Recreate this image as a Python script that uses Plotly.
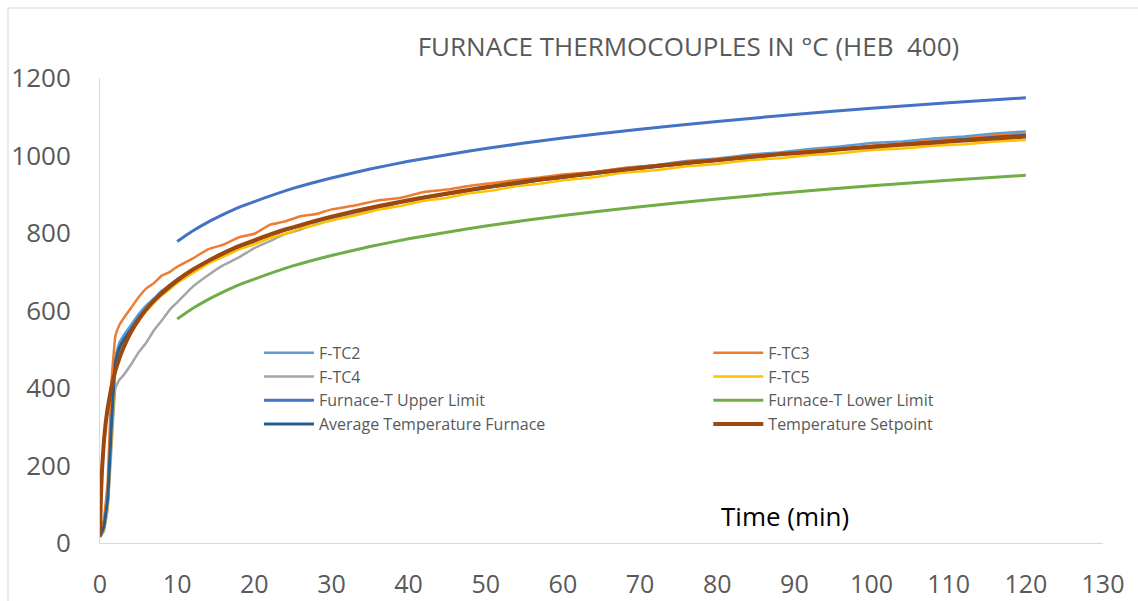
import plotly.graph_objects as go

# ---------------- data ----------------
time_meas = [0, 0.5, 1, 1.5, 2, 2.5, 3, 4, 5, 6, 7, 8, 9, 10, 12, 14, 16, 18, 20, 22, 24, 26, 28, 30,
             33, 36, 39, 42, 45, 48, 51, 54, 57, 60, 64, 68, 72, 76, 80, 84, 88, 92, 96, 100,
             104, 108, 112, 116, 120]

f_tc2 = [18, 40, 110, 300, 482, 516, 534, 562, 590, 613, 631, 651, 665, 681, 705, 729, 747, 766, 779, 795,
         806, 820, 829, 841, 854, 868, 879, 892, 900, 912, 920, 931, 938, 947, 956, 968, 975, 986, 992,
         1002, 1008, 1017, 1023, 1032, 1036, 1044, 1049, 1057, 1062]

f_tc3 = [20, 60, 160, 420, 535, 562, 578, 606, 634, 657, 671, 690, 699, 713, 734, 758, 770, 789, 798, 821,
         830, 843, 849, 861, 871, 884, 891, 906, 912, 922, 929, 937, 943, 951, 957, 968, 974, 984, 990,
         999, 1004, 1013, 1018, 1026, 1031, 1039, 1044, 1052, 1057]

f_tc4 = [15, 30, 90, 250, 400, 421, 432, 460, 492, 517, 549, 574, 601, 621, 661, 691, 717, 737, 761, 779,
         797, 809, 823, 833, 851, 863, 878, 888, 900, 908, 919, 926, 936, 942, 954, 961, 972, 978, 988,
         994, 1003, 1008, 1017, 1021, 1029, 1033, 1041, 1044, 1051]

f_tc5 = [15, 35, 100, 280, 450, 490, 514, 549, 573, 599, 619, 639, 654, 671, 696, 721, 739, 758, 771, 787,
         798, 812, 821, 833, 845, 860, 870, 883, 891, 903, 910, 921, 927, 936, 944, 956, 962, 972, 978,
         988, 993, 1001, 1006, 1014, 1018, 1025, 1029, 1036, 1040]

avg_furnace = [17, 41, 115, 312, 466, 503, 522, 551, 580, 603, 625, 643, 660, 676, 705, 727, 747, 765, 779,
               795, 808, 820, 831, 841, 856, 868, 880, 892, 901, 911, 920, 928, 937, 944, 953, 963, 971,
               980, 988, 995, 1003, 1009, 1017, 1023, 1029, 1035, 1041, 1047, 1052]

time_setpoint = [0, 0.1, 0.25, 0.5, 0.75, 1, 1.5, 2, 2.5, 3, 4, 5, 6, 7, 8, 9, 10, 12, 14, 16, 18, 20, 22,
                 24, 26, 28, 30, 33, 36, 39, 42, 45, 48, 51, 54, 57, 60, 64, 68, 72, 76, 80, 84, 88, 92,
                 96, 100, 104, 108, 112, 116, 120]
setpoint = [20, 108, 185, 261, 312, 349, 404, 445, 476, 502, 544, 576, 603, 626, 645, 663, 678, 705, 728,
            748, 766, 781, 796, 809, 820, 832, 842, 856, 869, 881, 892, 902, 912, 921, 930, 938, 945, 955,
            964, 973, 981, 988, 996, 1003, 1009, 1016, 1022, 1028, 1033, 1039, 1044, 1049]

time_limits = [10, 12, 14, 16, 18, 20, 25, 30, 35, 40, 45, 50, 55, 60, 70, 80, 90, 100, 110, 120]
upper_limit = [778, 805, 828, 848, 866, 881, 915, 942, 965, 985, 1002, 1018, 1032, 1045, 1068, 1088, 1106,
               1122, 1136, 1149]
lower_limit = [578, 605, 628, 648, 666, 681, 715, 742, 765, 785, 802, 818, 832, 845, 868, 888, 906, 922,
               936, 949]

x_ticks = list(range(0, 131, 10))
y_ticks = list(range(0, 1201, 200))

TITLE = "FURNACE THERMOCOUPLES IN °C (HEB  400)"
X_LABEL = "Time (min)"

# ---------------- figure ----------------
FONT = "Open Sans"
GREY = "#595959"

fig = go.Figure()
series = [
    ("F-TC2", time_meas, f_tc2, "#5B9BD5", 2.5, "legend"),
    ("F-TC3", time_meas, f_tc3, "#ED7D31", 2.5, "legend2"),
    ("F-TC4", time_meas, f_tc4, "#A5A5A5", 2.5, "legend"),
    ("F-TC5", time_meas, f_tc5, "#FFC000", 2.5, "legend2"),
    ("Furnace-T Upper Limit", time_limits, upper_limit, "#4472C4", 3, "legend"),
    ("Furnace-T Lower Limit", time_limits, lower_limit, "#70AD47", 3, "legend2"),
    ("Average Temperature Furnace", time_meas, avg_furnace, "#255E91", 3, "legend"),
    ("Temperature Setpoint", time_setpoint, setpoint, "#9E480E", 4, "legend2"),
]
for name, xs, ys, col, w, lg in series:
    fig.add_trace(go.Scatter(x=xs, y=ys, name=name, mode="lines", legend=lg,
                             line=dict(color=col, width=w, shape="spline", smoothing=0.3)))

legend_common = dict(orientation="v", yanchor="top", xanchor="left",
                     font=dict(family=FONT, size=16, color=GREY), itemwidth=50,
                     bgcolor="rgba(0,0,0,0)", borderwidth=0, tracegroupgap=0)

fig.update_layout(
    width=1138, height=601,
    margin=dict(l=100, r=35, t=78, b=58, autoexpand=False),
    paper_bgcolor="white", plot_bgcolor="white",
    font=dict(family=FONT, color=GREY),
    title=dict(text=TITLE, x=0.605, xanchor="center", y=1 - 47 / 601, yanchor="middle",
               font=dict(family=FONT, size=26, color=GREY)),
    showlegend=True,
    legend=dict(x=0.1585, y=0.4457, **legend_common),
    legend2=dict(x=0.6065, y=0.4457, **legend_common),
    xaxis=dict(range=[0, 130], tickvals=x_ticks, showgrid=False, zeroline=False, automargin=False,
               showline=True, linecolor="#D9D9D9", linewidth=1,
               ticks="outside", ticklen=19, tickcolor="rgba(0,0,0,0)",
               tickfont=dict(family=FONT, size=25, color=GREY)),
    yaxis=dict(range=[0, 1200], tickvals=y_ticks, showgrid=False, zeroline=False, automargin=False,
               showline=True, linecolor="#D9D9D9", linewidth=1,
               ticks="outside", ticklen=23, tickcolor="rgba(0,0,0,0)",
               tickfont=dict(family=FONT, size=26, color=GREY)),
    annotations=[dict(text=X_LABEL, x=88.8, y=70, xref="x", yref="y", showarrow=False,
                      xanchor="center", yanchor="middle",
                      font=dict(family=FONT, size=26, color="black"))],
    shapes=[dict(type="rect", xref="paper", yref="paper", x0=-0.0917, x1=1.3, y0=-0.4, y1=1.1505,
                 line=dict(color="#D9D9D9", width=1), layer="below")],
)

fig.write_html("out.html")
